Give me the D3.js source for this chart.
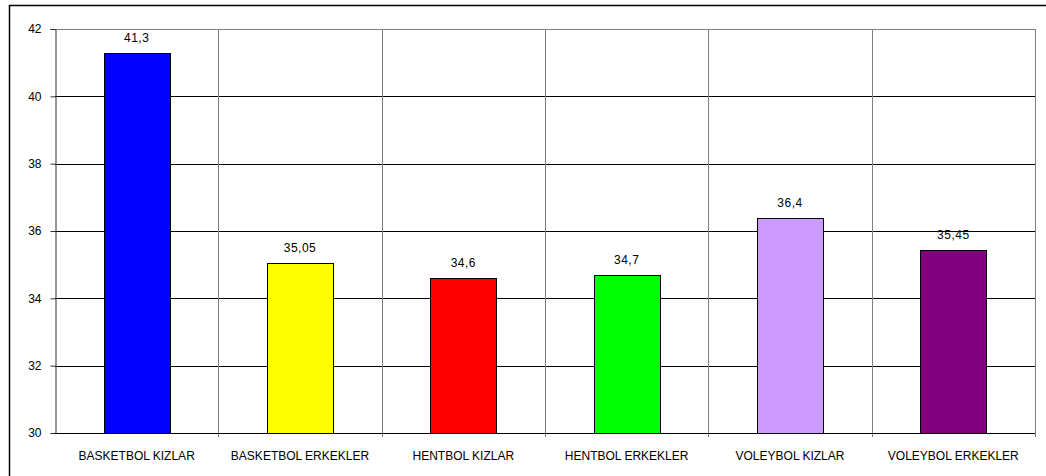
<!DOCTYPE html>
<html>
<head>
<meta charset="utf-8">
<script src="https://cdn.jsdelivr.net/npm/d3@7"></script>
<style>
  body { margin: 0; background: #fff; }
  text { font-family: "Liberation Sans", Arial, sans-serif; fill: #000; }
</style>
</head>
<body>
<svg width="1046" height="476"></svg>
<script>
var categories = ["BASKETBOL KIZLAR", "BASKETBOL ERKEKLER", "HENTBOL KIZLAR",
  "HENTBOL ERKEKLER", "VOLEYBOL KIZLAR", "VOLEYBOL ERKEKLER"];
var values = [41.3, 35.05, 34.6, 34.7, 36.4, 35.45];
var valueLabels = ["41,3", "35,05", "34,6", "34,7", "36,4", "35,45"];
var colors = ["#0000ff", "#ffff00", "#ff0000", "#00ff00", "#cc99ff", "#800080"];
var yTicks = [30, 32, 34, 36, 38, 40, 42];

var svg = d3.select("svg");
const width = +svg.attr("width");
const height = +svg.attr("height");

var margin = { left: 55, right: width - 1035, top: 29, bottom: height - 433 };

// outer frame of the chart object (runs off the right/bottom edge)
svg.append("rect")
  .attr("x", 9.5).attr("y", 5.5)
  .attr("width", width).attr("height", height)
  .attr("fill", "none").attr("stroke", "#000").attr("stroke-width", 1.5);

var x = d3.scaleBand()
  .domain(categories)
  .range([margin.left, width - margin.right])
  .paddingInner(0).paddingOuter(0);

var y = d3.scaleLinear()
  .domain([30, 42])
  .range([height - margin.bottom, margin.top]);

var g = svg.append("g");

// horizontal gridlines
g.selectAll("line.hgrid")
  .data(yTicks)
  .enter()
  .append("line")
  .attr("class", "hgrid")
  .attr("x1", margin.left).attr("x2", width - margin.right)
  .attr("y1", d => Math.round(y(d)) + 0.5).attr("y2", d => Math.round(y(d)) + 0.5)
  .attr("stroke", d => d == 42 ? "#808080" : "#000");

// vertical gridlines at category boundaries
var bounds = categories.map(c => x(c)).concat([width - margin.right]);
g.selectAll("line.vgrid")
  .data(bounds.slice(1))
  .enter()
  .append("line")
  .attr("class", "vgrid")
  .attr("x1", d => Math.round(d) + 0.5).attr("x2", d => Math.round(d) + 0.5)
  .attr("y1", margin.top).attr("y2", height - margin.bottom + 4)
  .attr("stroke", "#808080");

// bars
var barW = x.bandwidth() * 0.404;
g.selectAll("rect.bar")
  .data(values)
  .enter()
  .append("rect")
  .attr("class", "bar")
  .attr("x", (d, i) => Math.round(x(categories[i]) + x.bandwidth() / 2 - barW / 2) + 0.5)
  .attr("y", d => Math.round(y(d)) + 0.5)
  .attr("width", Math.round(barW))
  .attr("height", d => Math.round(y(30)) - Math.round(y(d)))
  .attr("fill", (d, i) => colors[i])
  .attr("stroke", "#000")
  .attr("stroke-width", 1);

// value labels
g.selectAll("text.val")
  .data(values)
  .enter()
  .append("text")
  .attr("class", "val")
  .attr("x", (d, i) => x(categories[i]) + x.bandwidth() / 2)
  .attr("y", d => y(d) - 11)
  .attr("text-anchor", "middle")
  .style("font-size", "12px")
  .style("letter-spacing", "0.5px")
  .text((d, i) => valueLabels[i]);

// y axis
var yAxis = d3.axisLeft(y).tickValues(yTicks).tickSize(5).tickPadding(9)
  .tickFormat(d3.format("d"));
var ya = svg.append("g")
  .attr("transform", "translate(" + (margin.left + 0.5) + ",0)")
  .call(yAxis);
ya.select(".domain").attr("stroke", "#333");
ya.selectAll(".tick line").attr("stroke", "#333");
ya.selectAll("text").style("font-size", "12px").style("font-family", "'Liberation Sans', Arial, sans-serif");

// x axis line
var xa = svg.append("g")
  .attr("transform", "translate(0," + (Math.round(y(30)) + 0.5) + ")");
xa.append("line")
  .attr("x1", margin.left).attr("x2", width - margin.right)
  .attr("stroke", "#000");
xa.selectAll("text")
  .data(categories)
  .enter()
  .append("text")
  .attr("x", d => x(d) + x.bandwidth() / 2)
  .attr("y", 26)
  .attr("text-anchor", "middle")
  .style("font-size", "12px")
  .text(d => d);

// right plot border
svg.append("line")
  .attr("x1", width - margin.right + 0.5).attr("x2", width - margin.right + 0.5)
  .attr("y1", margin.top).attr("y2", y(30))
  .attr("stroke", "#808080");
</script>
</body>
</html>
